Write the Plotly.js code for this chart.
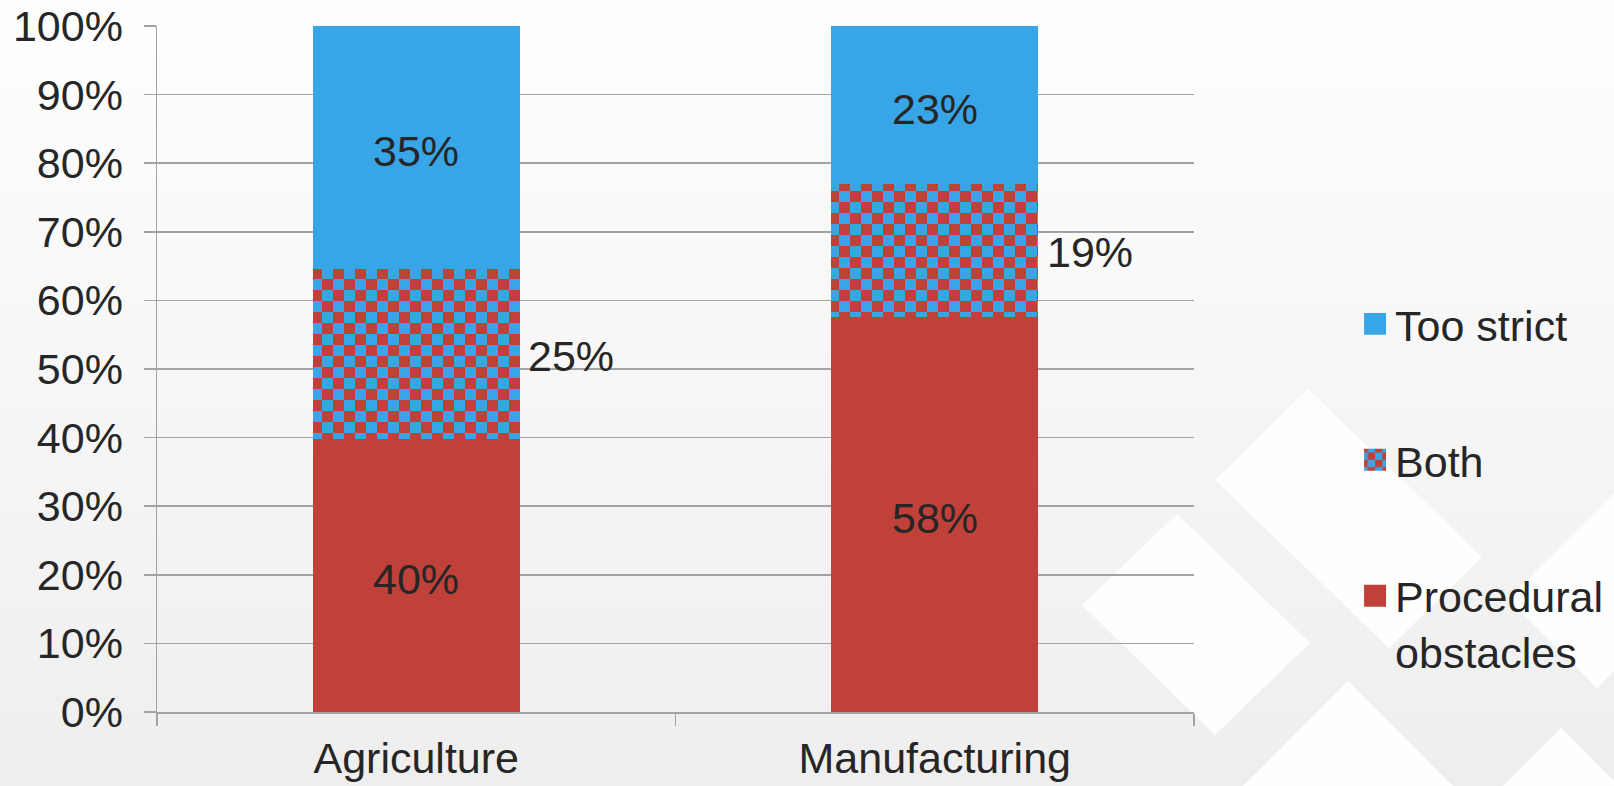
<!DOCTYPE html>
<html>
<head>
<meta charset="utf-8">
<script src="https://cdn.plot.ly/plotly-3.0.1.min.js"></script>
<style>
html, body { margin:0; padding:0; width:1614px; height:786px; overflow:hidden; }
body { position:relative; background:linear-gradient(to bottom, #fefefe 0%, #f7f7f7 45%, #eeeeee 100%); }
#deco { position:absolute; left:0; top:0; }
#chart { position:absolute; left:0; top:0; width:1614px; height:786px; }
</style>
</head>
<body>
<svg id="deco" width="1614" height="786">
  <g fill="#ffffff" fill-opacity="0.9">
    <polygon points="1308,389 1482,557 1389,648 1215,480"/>
    <polygon points="1177,514 1310,643 1215,735 1082,605"/>
    <polygon points="1508,599 1614,493 1614,671 1597,688"/>
    <polygon points="1348,681 1453,786 1243,786"/>
    <polygon points="1561,728 1619,786 1503,786"/>
  </g>
</svg>
<div id="chart"></div>
<script>
// ---- data ----
const categories = ['Agriculture', 'Manufacturing'];
const procedural = [39.8, 57.6];
const both = [24.8, 19.4];
const tooStrict = [35.4, 23.0];
const seriesNames = ['Procedural<br>obstacles', 'Both', 'Too strict'];

// ---- style ----
const RED = '#C0403A';
const BLUE = '#38A6E6';
const TXT = '#262626';
const GRID = '#a3a3a3';
const FONT = 'Liberation Sans, Arial, Helvetica, sans-serif';
const FS = 43;

const traces = [
  {
    type: 'bar', x: categories, y: procedural, name: seriesNames[0],
    marker: { color: RED, line: { width: 0 } },
    textposition: 'none', legendgroup: 'g1', legendrank: 3, hoverinfo: 'skip'
  },
  {
    type: 'bar', x: categories, y: both, name: seriesNames[1],
    marker: { color: BLUE, line: { width: 0 },
      pattern: { shape: '+', bgcolor: BLUE, fgcolor: RED, size: 22, solidity: 0.5, fillmode: 'replace' } },
    textposition: 'none', legendgroup: 'g2', legendrank: 2, hoverinfo: 'skip'
  },
  {
    type: 'bar', x: categories, y: tooStrict, name: seriesNames[2],
    marker: { color: BLUE, line: { width: 0 } },
    textposition: 'none', legendgroup: 'g3', legendrank: 1, hoverinfo: 'skip'
  }
];

const labelFont = { family: FONT, size: FS, color: TXT };
const annotations = [];
categories.forEach((c, i) => {
  annotations.push({
    x: c, y: procedural[i] / 2, xref: 'x', yref: 'y',
    text: Math.round(procedural[i]) + '%', showarrow: false,
    xanchor: 'center', yanchor: 'middle', yshift: -4, font: labelFont
  });
  annotations.push({
    x: c, y: procedural[i] + both[i] / 2, xref: 'x', yref: 'y',
    text: Math.round(both[i]) + '%', showarrow: false,
    xanchor: 'left', yanchor: 'middle', xshift: 110, yshift: -2, font: labelFont
  });
  annotations.push({
    x: c, y: procedural[i] + both[i] + tooStrict[i] / 2, xref: 'x', yref: 'y',
    text: Math.round(tooStrict[i]) + '%', showarrow: false,
    xanchor: 'center', yanchor: 'middle', yshift: -4, font: labelFont
  });
});

const layout = {
  width: 1614, height: 786,
  margin: { l: 157, r: 420, t: 26, b: 74, pad: 0, autoexpand: false },
  paper_bgcolor: 'rgba(0,0,0,0)', plot_bgcolor: 'rgba(0,0,0,0)',
  barmode: 'stack', bargap: 0.6,
  font: { family: FONT, size: FS, color: TXT },
  xaxis: {
    type: 'category', tickson: 'boundaries', ticks: 'outside', ticklen: 12,
    tickwidth: 1.5, tickcolor: GRID, showline: true, linecolor: GRID, linewidth: 1.5,
    showgrid: false, zeroline: false, ticklabelstandoff: 8,
    tickfont: { family: FONT, size: FS, color: TXT }, fixedrange: true
  },
  yaxis: {
    range: [0, 100], dtick: 10, ticksuffix: '%', ticks: 'outside', ticklen: 12,
    tickwidth: 1.5, tickcolor: GRID, showline: true, linecolor: GRID, linewidth: 1.5,
    showgrid: true, gridcolor: GRID, gridwidth: 1.5, zeroline: false,
    ticklabelstandoff: 12, tickfont: { family: FONT, size: FS, color: TXT },
    fixedrange: true
  },
  showlegend: true,
  legend: {
    x: 1.1553, xanchor: 'left', y: 0.616, yanchor: 'top',
    traceorder: 'grouped', tracegroupgap: 77, valign: 'top',
    bgcolor: 'rgba(0,0,0,0)', borderwidth: 0,
    font: { family: FONT, size: FS, color: TXT }
  },
  annotations: annotations
};

function decorate() {
  const gd = document.getElementById('chart');
  const ns = 'http://www.w3.org/2000/svg';
  gd.querySelectorAll('defs pattern').forEach(p => {
    if (p.getAttribute('data-checker')) return;
    const isLegend = (p.id || '').indexOf('legend') >= 0 ||
      (p.getAttribute('patternTransform') || '').indexOf('scale') >= 0;
    let w = parseFloat(p.getAttribute('width'));
    if (isLegend) {
      w = 8;
      p.setAttribute('width', w); p.setAttribute('height', w);
      p.removeAttribute('patternTransform');
    }
    while (p.firstChild) p.removeChild(p.firstChild);
    const mk = (x, y, s, c) => {
      const r = document.createElementNS(ns, 'rect');
      r.setAttribute('x', x); r.setAttribute('y', y);
      r.setAttribute('width', s); r.setAttribute('height', s);
      r.setAttribute('fill', c); p.appendChild(r);
    };
    mk(0, 0, w, BLUE); mk(0, 0, w / 2, RED); mk(w / 2, w / 2, w / 2, RED);
    p.setAttribute('data-checker', '1');
  });
  gd.querySelectorAll('.legend .legendpoints path').forEach(el => {
    if (el.getAttribute('data-scaled')) return;
    const t = el.getAttribute('transform') || '';
    el.setAttribute('transform', t + ' scale(1.83)');
    el.setAttribute('data-scaled', '1');
  });
}

Plotly.newPlot('chart', traces, layout, { staticPlot: true, displayModeBar: false }).then(gd => {
  decorate();
  gd.on && gd.on('plotly_afterplot', decorate);
});
</script>
</body>
</html>
